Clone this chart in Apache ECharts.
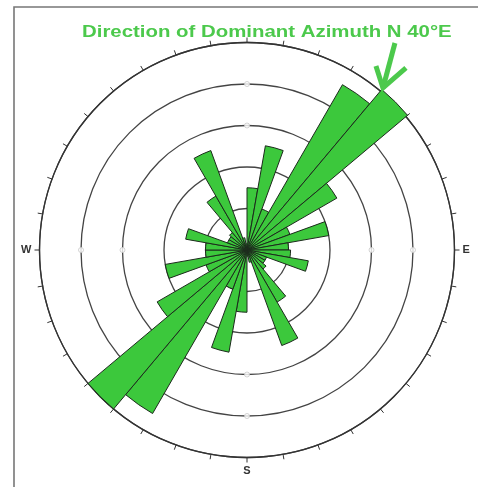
<!DOCTYPE html>
<html>
<head>
<meta charset="utf-8">
<script src="https://cdn.jsdelivr.net/npm/echarts@6/dist/echarts.min.js"></script>
<style>
html,body{margin:0;padding:0;background:#fff;}
#chart{width:478px;height:487px;}
</style>
</head>
<body>
<div id="chart"></div>
<script>
// 10-degree azimuth bins, clockwise from north
const binLabels = ['0-10','10-20','20-30','30-40','40-50','50-60','60-70','70-80','80-90',
  '90-100','100-110','110-120','120-130','130-140','140-150','150-160','160-170','170-180',
  '180-190','190-200','200-210','210-220','220-230','230-240','240-250','250-260','260-270',
  '270-280','280-290','290-300','300-310','310-320','320-330','330-340','340-350','350-360'];
// frequency per bin (rings at 2,4,6,8,10)
const frequencies = [3.0, 5.1, 2.1, 9.2, 10.1, 5.0, 2.2, 4.0, 2.0,
  2.1, 3.0, 1.0, 1.0, 1.2, 2.9, 4.9, 0.6, 0.3,
  3.0, 5.0, 2.0, 9.1, 10.0, 5.0, 2.1, 4.0, 2.0,
  2.0, 3.0, 1.0, 1.0, 1.1, 3.0, 5.1, 0.6, 0.3];
const compassLabels = {0: 'N', 90: 'E', 180: 'S', 270: 'W'};
// faint ring markers on the cardinal directions: [ring value, azimuth]
const ringMarks = [[6, 0], [8, 0], [6, 90], [8, 90], [6, 180], [8, 180], [6, 270], [8, 270]];
const titleText = 'Direction of Dominant Azimuth N 40°E';
const dominantAzimuth = 40;

const chart = echarts.init(document.getElementById('chart'));
const CX = 247, CY = 250, R = 207.5;
const green = '#3cc83c';
const titleGreen = '#4cc94c';

// arrow geometry (derived from polar layout)
const a = dominantAzimuth * Math.PI / 180;
const tip = [CX + (R + 4) * Math.sin(a), CY - (R + 4) * Math.cos(a)];

chart.setOption({
  backgroundColor: '#fff',
  animation: false,
  polar: [
    {center: [CX, CY], radius: R},
    {center: [CX, CY], radius: R}
  ],
  angleAxis: [
    {
      polarIndex: 0, type: 'category', data: binLabels, startAngle: 90, clockwise: true,
      boundaryGap: true,
      axisLine: {show: true, lineStyle: {color: '#333', width: 1.3}},
      axisTick: {show: false}, axisLabel: {show: false}, splitLine: {show: false}
    },
    {
      polarIndex: 1, type: 'value', min: 0, max: 360, interval: 10, startAngle: 90, clockwise: true,
      axisLine: {show: false},
      axisTick: {show: true, length: 5, lineStyle: {color: '#333', width: 1}},
      axisLabel: {
        show: true, margin: 8, color: '#333', fontSize: 11, fontWeight: 'bold',
        fontFamily: 'Liberation Sans, Arial, sans-serif',
        formatter: v => (v === 0 || v === 360) ? '' : (compassLabels[v] || '')
      },
      splitLine: {show: false}
    }
  ],
  radiusAxis: [
    {
      polarIndex: 0, min: 0, max: 10, interval: 2,
      axisLine: {show: false}, axisTick: {show: false}, axisLabel: {show: false},
      splitLine: {show: true, lineStyle: {color: '#444', width: 1.3}}
    },
    {
      polarIndex: 1, min: 0, max: 10, show: false,
      axisLine: {show: false}, axisTick: {show: false}, axisLabel: {show: false},
      splitLine: {show: false}
    }
  ],
  series: [
    {
      type: 'scatter', coordinateSystem: 'polar', polarIndex: 1,
      data: ringMarks, symbol: 'circle', symbolSize: 5, silent: true,
      itemStyle: {color: '#fff', borderColor: '#c8c8c8', borderWidth: 1}, z: 3
    },
    {
      type: 'bar',
      coordinateSystem: 'polar',
      polarIndex: 0,
      data: frequencies,
      barCategoryGap: '0%',
      clip: false,
      itemStyle: {color: green, borderColor: '#1c2a1c', borderWidth: 1},
      z: 5
    }
  ],
  graphic: [
    {
      type: 'polyline', silent: true, z: 1,
      shape: {points: [[14, 487], [14, 7], [478, 7]]},
      style: {stroke: '#777', lineWidth: 1.6, fill: null}
    },
    {
      type: 'text', z: 10, x: 82, y: 24, scaleX: 1.2,
      style: {
        text: titleText, fill: titleGreen, fontSize: 17, fontWeight: 'bold',
        fontFamily: 'Liberation Sans, Arial, sans-serif', x: 0, y: 0, verticalAlign: 'top'
      }
    },
    {
      type: 'line', z: 10,
      shape: {x1: tip[0] + 12, y1: tip[1] - 45, x2: tip[0], y2: tip[1]},
      style: {stroke: titleGreen, lineWidth: 5}
    },
    {
      type: 'polyline', z: 10,
      shape: {points: [[tip[0] - 7, tip[1] - 22], [tip[0], tip[1]], [tip[0] + 23, tip[1] - 20]]},
      style: {stroke: titleGreen, lineWidth: 5, fill: null, lineJoin: 'miter'}
    }
  ]
});
</script>
</body>
</html>
